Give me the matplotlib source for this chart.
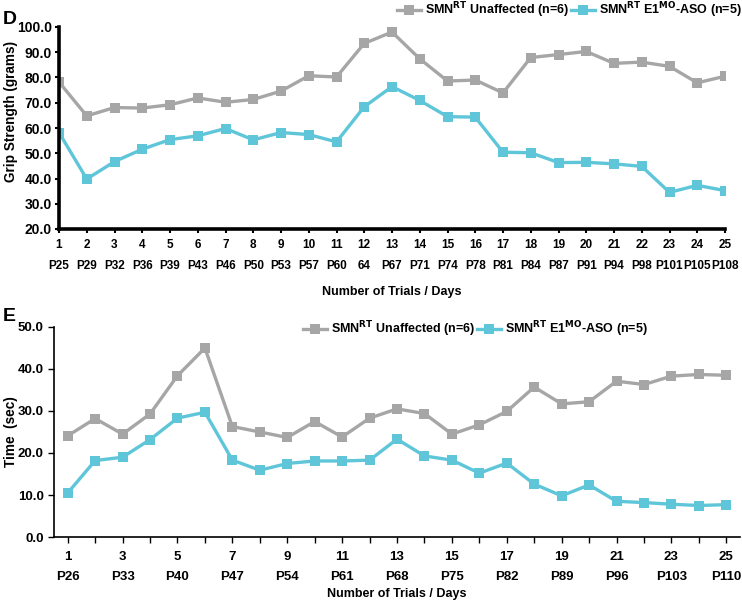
import matplotlib
matplotlib.use("Agg")
import matplotlib.pyplot as plt
import matplotlib.transforms as mtransforms
from matplotlib.ticker import MultipleLocator, FixedLocator, FormatStrFormatter

plt.rcParams["font.family"] = ["Liberation Sans", "DejaVu Sans"]
plt.rcParams["font.weight"] = "bold"

GRAY = "#a6a6a6"
CYAN = "#5ec6d8"

# Panel D: grip strength
trials_d = list(range(1, 26))
days_d = ["P25", "P29", "P32", "P36", "P39", "P43", "P46", "P50", "P53", "P57", "P60", "64",
          "P67", "P71", "P74", "P78", "P81", "P84", "P87", "P91", "P94", "P98", "P101", "P105", "P108"]
grip_unaffected = [78.2, 64.8, 68.1, 67.9, 69.2, 71.9, 70.2, 71.3, 74.6, 80.7, 80.2, 93.5,
                   98.0, 87.4, 78.6, 79.0, 73.9, 87.9, 89.1, 90.3, 85.6, 86.1, 84.4, 77.9, 80.5]
grip_aso = [58.2, 39.8, 46.7, 51.6, 55.4, 56.9, 59.8, 55.3, 58.2, 57.4, 54.5, 68.4,
            76.4, 70.9, 64.5, 64.3, 50.4, 50.2, 46.3, 46.4, 45.8, 44.8, 34.5, 37.3, 35.2]

# Panel E: time
trials_e = list(range(1, 26))
label_trials_e = [1, 3, 5, 7, 9, 11, 13, 15, 17, 19, 21, 23, 25]
days_e = ["P26", "P33", "P40", "P47", "P54", "P61", "P68", "P75", "P82", "P89", "P96", "P103", "P110"]
time_unaffected = [24.1, 28.2, 24.5, 29.3, 38.4, 45.0, 26.3, 25.0, 23.7, 27.5, 23.8, 28.3,
                   30.5, 29.4, 24.5, 26.7, 29.9, 35.7, 31.7, 32.2, 37.1, 36.3, 38.3, 38.7, 38.5]
time_aso = [10.5, 18.2, 19.0, 23.2, 28.3, 29.7, 18.3, 15.9, 17.5, 18.1, 18.1, 18.3,
            23.3, 19.3, 18.3, 15.2, 17.6, 12.6, 9.8, 12.4, 8.5, 8.2, 7.8, 7.5, 7.7]

lab_unaff = r"SMN$^{\mathbf{RT}}$ Unaffected (n=6)"
lab_aso = r"SMN$^{\mathbf{RT}}$ E1$^{\mathbf{MO}}$-ASO (n=5)"

fig = plt.figure(figsize=(7.42, 6.07), dpi=100)
W, H = 742, 607


def add_axes(left, top, right, bottom):
    return fig.add_axes([left / W, 1 - bottom / H, (right - left) / W, (bottom - top) / H])


line_kw = dict(marker="s", ms=6.8, lw=2.4, markeredgewidth=0)

# ---- D ----
ax = add_axes(59, 27, 725, 229)
ax.plot(trials_d, grip_unaffected, color=GRAY, label=lab_unaff, **line_kw)
ax.plot(trials_d, grip_aso, color=CYAN, label=lab_aso, **line_kw)
ax.set_xlim(1, 25)
ax.set_ylim(20, 100)
ax.yaxis.set_major_locator(MultipleLocator(10))
ax.yaxis.set_major_formatter(FormatStrFormatter("%.1f"))
ax.set_xticks(trials_d)
ax.set_xticklabels([f"{t}\n{d}" for t, d in zip(trials_d, days_d)], linespacing=2.0)
for s in ["top", "right"]:
    ax.spines[s].set_visible(False)
for s in ["left", "bottom"]:
    ax.spines[s].set_linewidth(2.6)
ax.tick_params(axis="both", length=3, width=1.5, direction="out")
ax.tick_params(axis="y", pad=2, labelsize=10)
ax.tick_params(axis="x", pad=4, labelsize=8.5)
ax.set_ylabel("Grip Strength (grams)", fontsize=9.8, fontweight="bold")
ax.yaxis.set_label_coords(18 / W, 0.58,
                          transform=mtransforms.blended_transform_factory(fig.transFigure, ax.transAxes))
ax.set_xlabel("Number of Trials / Days", fontsize=9, fontweight="bold", labelpad=10)
ax.legend(loc="lower right", bbox_to_anchor=(1.025, 1.035), ncol=2, frameon=False,
          fontsize=9, handlelength=1.9, handletextpad=0.3, columnspacing=0.2,
          borderaxespad=0, borderpad=0)
fig.text(3 / W, 1 - 20 / H, "D", fontsize=14, fontweight="bold", va="center")

# ---- E ----
ax2 = add_axes(54, 327, 740, 537)
ax2.plot(trials_e, time_unaffected, color=GRAY, label=lab_unaff, **line_kw)
ax2.plot(trials_e, time_aso, color=CYAN, label=lab_aso, **line_kw)
ax2.set_xlim(0.5, 25.5)
ax2.set_ylim(0, 50)
ax2.yaxis.set_major_locator(MultipleLocator(10))
ax2.yaxis.set_major_formatter(FormatStrFormatter("%.1f"))
ax2.xaxis.set_major_locator(FixedLocator(label_trials_e))
ax2.xaxis.set_minor_locator(FixedLocator(trials_e))
ax2.set_xticklabels([f"{t}\n{d}" for t, d in zip(label_trials_e, days_e)], linespacing=1.85)
for s in ["top", "right"]:
    ax2.spines[s].set_visible(False)
for s in ["left", "bottom"]:
    ax2.spines[s].set_linewidth(1.2)
ax2.tick_params(axis="both", which="both", length=4, width=1.0, labelsize=9.5, direction="out")
ax2.tick_params(axis="x", pad=6)
ax2.set_ylabel("Time  (sec)", fontsize=9.8, fontweight="bold")
ax2.yaxis.set_label_coords(18 / W, 0.5,
                           transform=mtransforms.blended_transform_factory(fig.transFigure, ax2.transAxes))
ax2.set_xlabel("Number of Trials / Days", fontsize=9, fontweight="bold", labelpad=4)
ax2.legend(loc="upper center", bbox_to_anchor=(0.614, 1.035), ncol=2, frameon=False,
           fontsize=9, handlelength=1.9, handletextpad=0.3, columnspacing=0.2,
           borderaxespad=0, borderpad=0)
fig.text(3 / W, 1 - 317 / H, "E", fontsize=14, fontweight="bold", va="center")

fig.savefig("out.png", dpi=100)
